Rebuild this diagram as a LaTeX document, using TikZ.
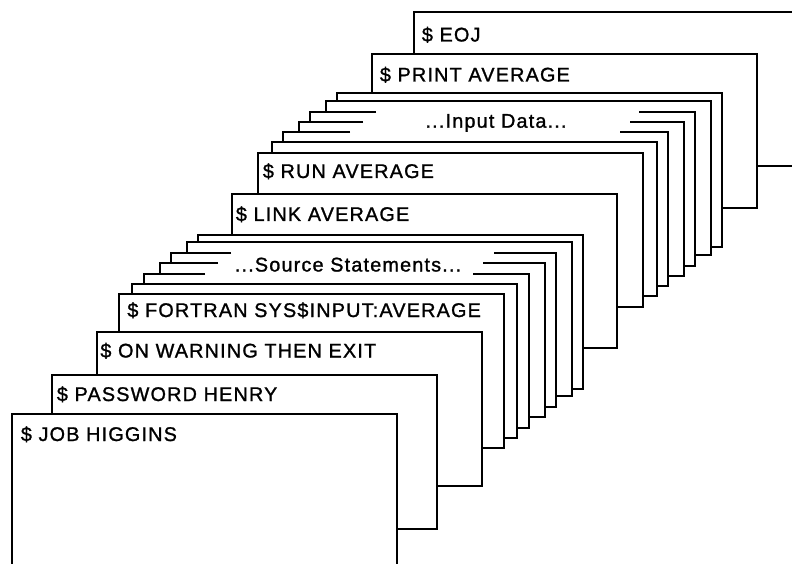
\documentclass[tikz,border=0pt]{standalone}
\usepackage{fontspec}
\setmainfont{Liberation Sans}[LetterSpace=6, FakeBold=1.2]

\begin{document}
\begin{tikzpicture}[x=1pt, y=-1pt, line width=1.8pt,
    card/.style = {draw, fill=white, minimum width=385pt, minimum height=154pt,
                   inner sep=0pt, outer sep=0pt, anchor=north west},
    blank/.style = {card, draw=none},
    tag/.style = {anchor=base west, inner sep=0pt, font=\fontsize{19.8}{22}\selectfont},
    mid/.style = {tag, anchor=base}]
    \clip (0,0) rectangle (792,564);

    % Cards, back to front

    \node[card] (eoj) at (414,12) {};
    \node[card] (print) at (372,54) {};

    \node[card] (i6) at (337,93) {};
    \node[card] (i5) at (326,101) {};
    \node[blank] (i4) at (310,112) {};
    \draw ([xshift=66pt]i4.north west) -- (i4.north west) -- (i4.south west) -- (i4.south east) -- (i4.north east) -- ([xshift=-56pt]i4.north east);
    \node[blank] (i3) at (299,122) {};
    \draw ([xshift=64pt]i3.north west) -- (i3.north west) -- (i3.south west) -- (i3.south east) -- (i3.north east) -- ([xshift=-54pt]i3.north east);
    \node[blank] (i2) at (283,132) {};
    \draw ([xshift=67pt]i2.north west) -- (i2.north west) -- (i2.south west) -- (i2.south east) -- (i2.north east) -- ([xshift=-48pt]i2.north east);
    \node[card] (i1) at (272,142) {};

    \node[card] (run) at (258,153) {};
    \node[card] (link) at (232,194) {};

    \node[card] (s6) at (198,235) {};
    \node[card] (s5) at (187,242) {};
    \node[blank] (s4) at (171,253) {};
    \draw ([xshift=60pt]s4.north west) -- (s4.north west) -- (s4.south west) -- (s4.south east) -- (s4.north east) -- ([xshift=-62pt]s4.north east);
    \node[blank] (s3) at (160,263) {};
    \draw ([xshift=58pt]s3.north west) -- (s3.north west) -- (s3.south west) -- (s3.south east) -- (s3.north east) -- ([xshift=-62pt]s3.north east);
    \node[blank] (s2) at (144,274) {};
    \draw ([xshift=61pt]s2.north west) -- (s2.north west) -- (s2.south west) -- (s2.south east) -- (s2.north east) -- ([xshift=-56pt]s2.north east);
    \node[card] (s1) at (132,284) {};

    \node[card] (fortran) at (119,294) {};
    \node[card] (onwarn) at (97,332) {};
    \node[card] (password) at (52,375) {};
    \node[card] (job) at (12,414) {};

    % Labels

    \node[tag] (eojtxt) at (421,41.5) {\$ EOJ};
    \node[tag] (printtxt) at (379,81.5) {\$ PRINT AVERAGE};
    \node[mid] (inputtxt) at (496,127.7) {...Input Data...};
    \node[tag] (runtxt) at (262,178) {\$ RUN AVERAGE};
    \node[tag] (linktxt) at (235,221) {\$ LINK AVERAGE};
    \node[mid] (sourcetxt) at (348,271.5) {...Source Statements...};
    \node[tag] (fortrantxt) at (126.5,317) {\$ FORTRAN SYS\$INPUT:AVERAGE};
    \node[tag] (onwarntxt) at (99.5,357.5) {\$ ON WARNING THEN EXIT};
    \node[tag] (passwordtxt) at (56,401) {\$ PASSWORD HENRY};
    \node[tag] (jobtxt) at (20,441) {\$ JOB HIGGINS};

\end{tikzpicture}
\end{document}
